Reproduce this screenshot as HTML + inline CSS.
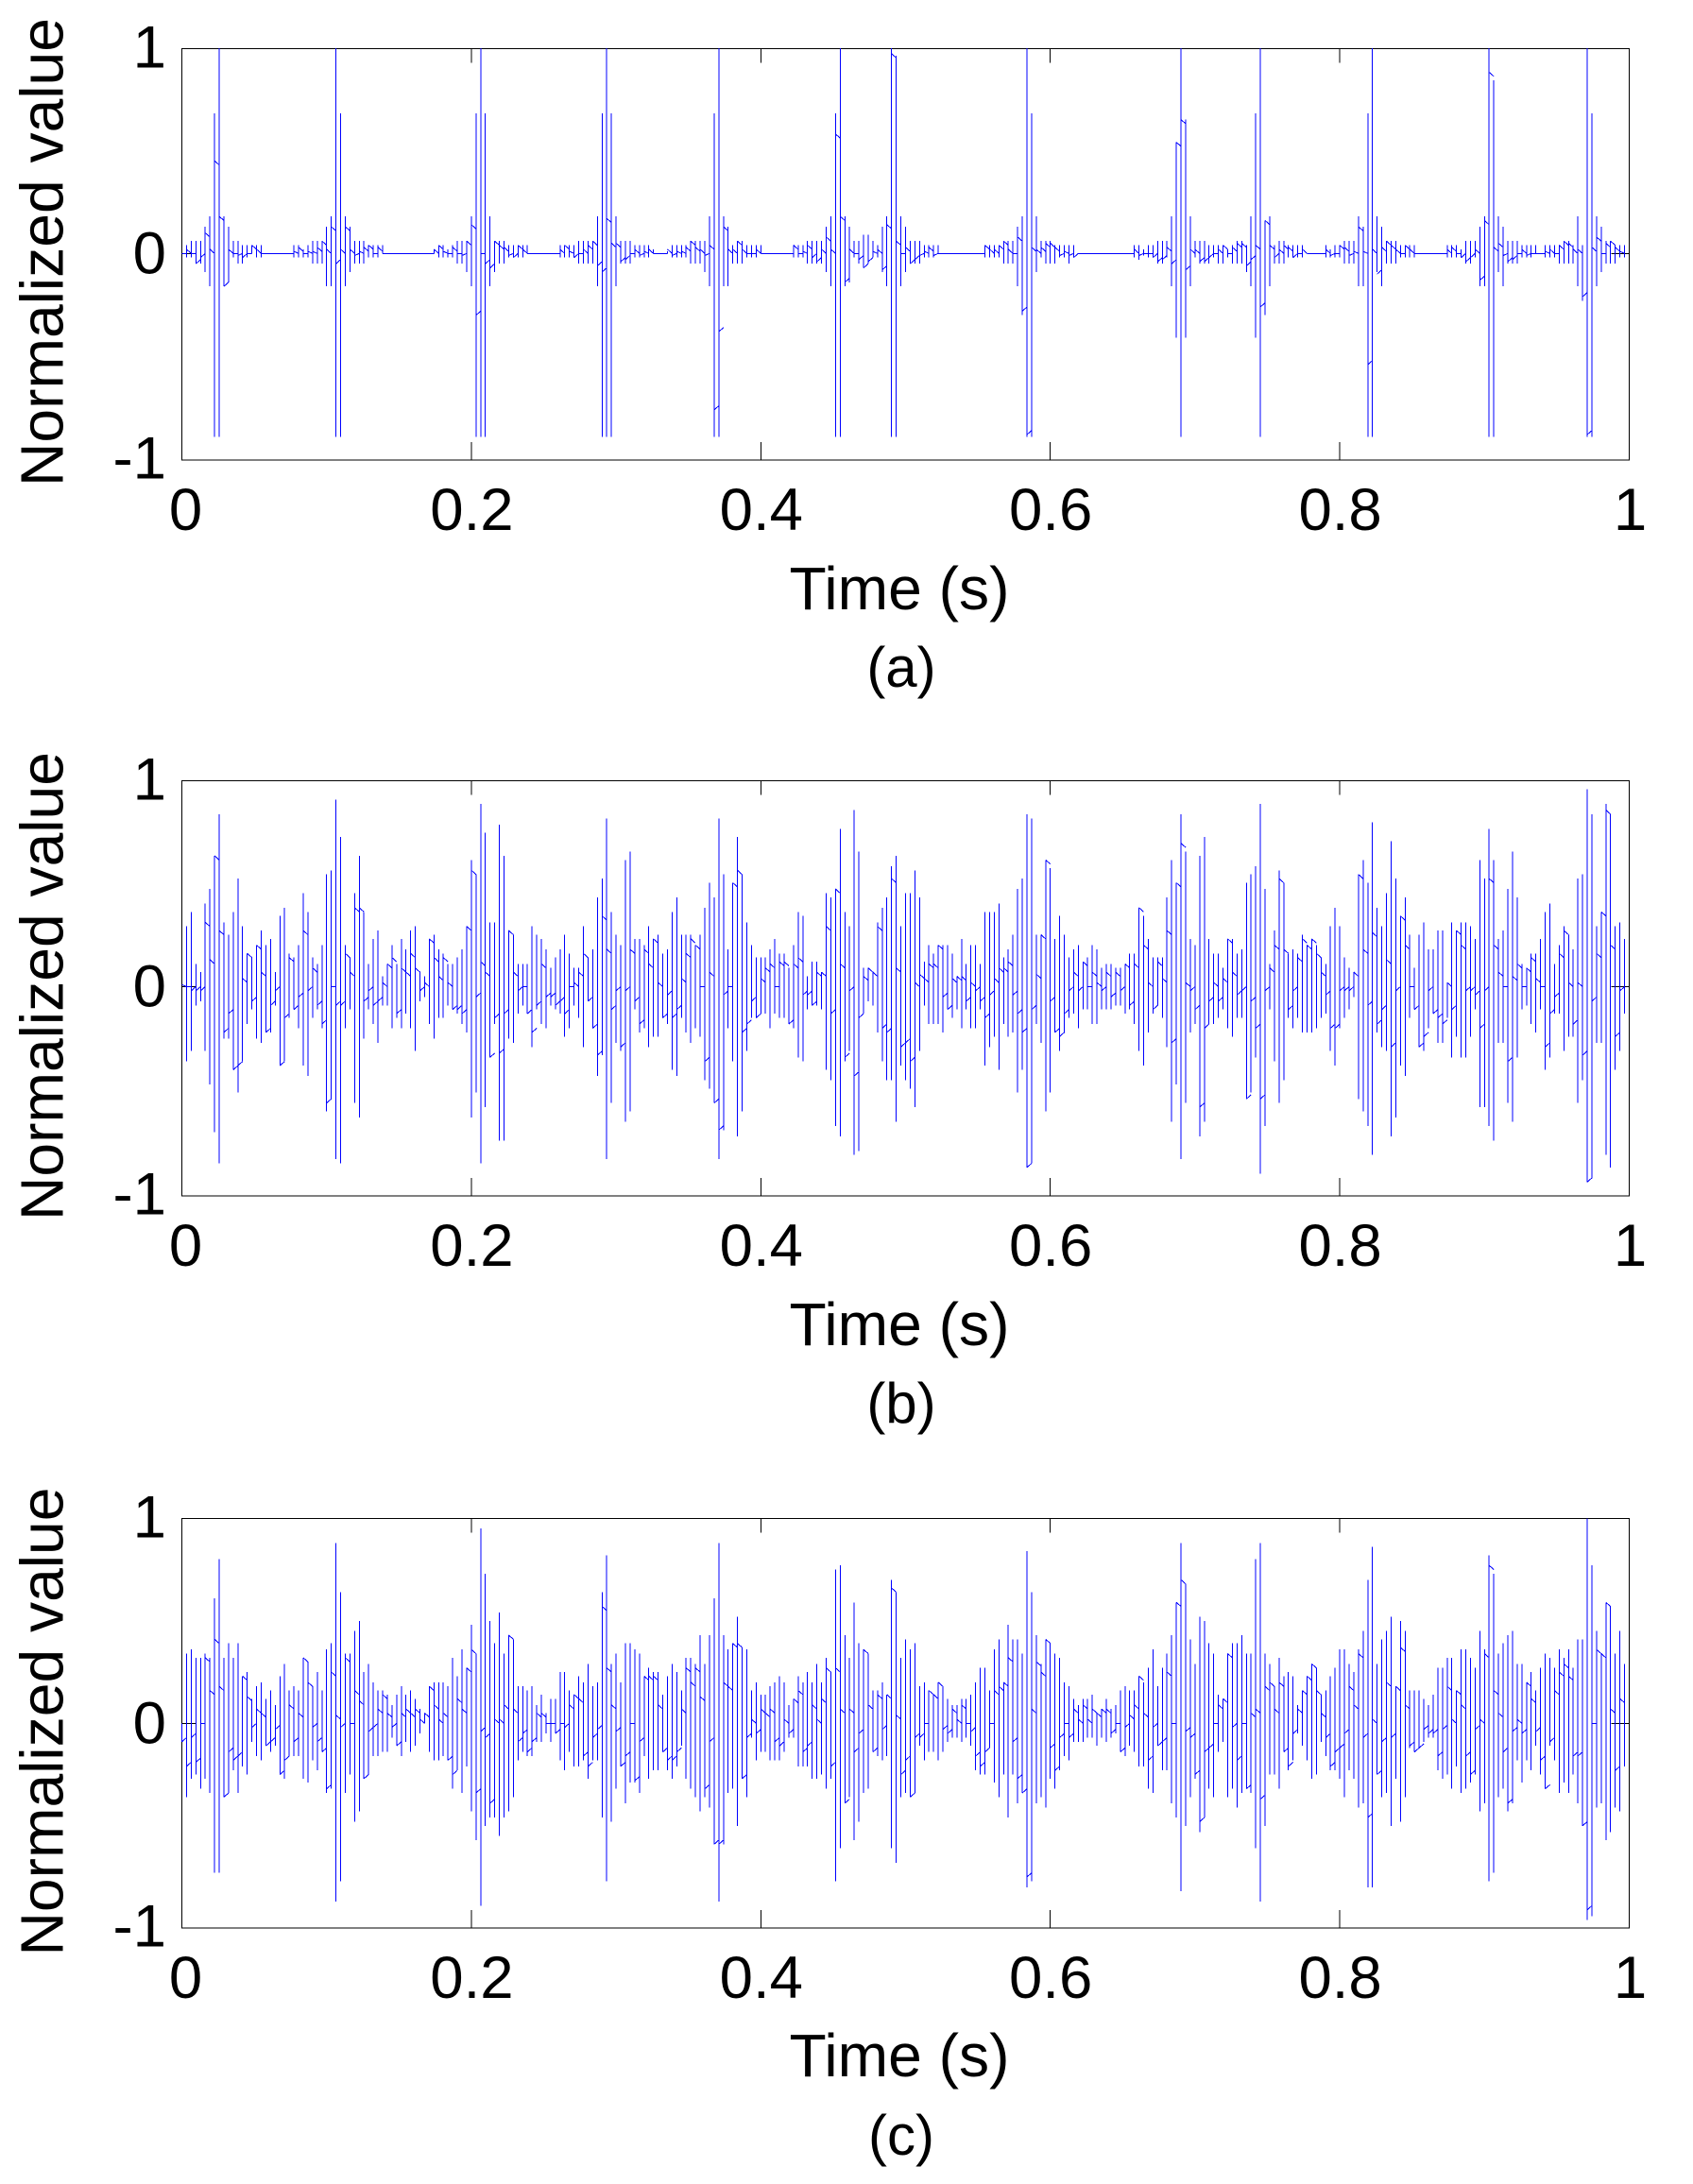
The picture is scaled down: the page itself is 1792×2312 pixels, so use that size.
<!DOCTYPE html>
<html lang="en">
<head>
<meta charset="utf-8">
<title>Normalized value vs time</title>
<style>
html,body{margin:0;padding:0;background:#fff;width:1792px;height:2312px;overflow:hidden}
svg{display:block}
text{font-family:"Liberation Sans",Arial,sans-serif;font-size:63.5px;fill:#000}
text.axis-title{font-size:64.2px}
text.panel-label{font-size:60px}
.frame{fill:none;stroke:#000;stroke-width:1;shape-rendering:crispEdges}
.tick{stroke:#000;stroke-width:1;shape-rendering:crispEdges}
.trace{fill:none;stroke:#0000ff;stroke-width:1;shape-rendering:crispEdges}
</style>
</head>
<body>
<svg id="chart" xmlns="http://www.w3.org/2000/svg" width="1792" height="2312" viewBox="0 0 1792 2312">
<defs>
<clipPath id="clip-a"><rect x="192" y="51" width="1533" height="436"/></clipPath>
<clipPath id="clip-b"><rect x="192" y="826" width="1533" height="440"/></clipPath>
<clipPath id="clip-c"><rect x="192" y="1607" width="1533" height="434"/></clipPath>
</defs>

<g id="panel-a">
<rect class="frame" x="192.5" y="51.5" width="1532" height="435.5"/>
<text class="axis-title" transform="translate(66.5,267) rotate(-90)" text-anchor="middle">Normalized value</text>
<text class="axis-title" x="952" y="645" text-anchor="middle">Time (s)</text>
<text class="panel-label" x="954" y="727" text-anchor="middle">(a)</text>
</g>

<g id="panel-b">
<rect class="frame" x="192.5" y="826.5" width="1532" height="439.5"/>
<text class="axis-title" transform="translate(66.5,1044) rotate(-90)" text-anchor="middle">Normalized value</text>
<text class="axis-title" x="952" y="1424" text-anchor="middle">Time (s)</text>
<text class="panel-label" x="954" y="1506" text-anchor="middle">(b)</text>
</g>

<g id="panel-c">
<rect class="frame" x="192.5" y="1607.5" width="1532" height="433.5"/>
<text class="axis-title" transform="translate(66.5,1822.5) rotate(-90)" text-anchor="middle">Normalized value</text>
<text class="axis-title" x="952" y="2198" text-anchor="middle">Time (s)</text>
<text class="panel-label" x="954" y="2281" text-anchor="middle">(c)</text>
</g>
</svg>

<script>
// Axis ticks
const xTickValues = [0, 0.2, 0.4, 0.6, 0.8, 1];
const xTickLabels = ['0', '0.2', '0.4', '0.6', '0.8', '1'];
const yTickValues = [1, 0, -1];
const yTickLabels = ['1', '0', '-1'];

// Number of time columns in each one-second trace
const columnCount = 310;

// Panel (a): column highs, lows and connector values, in hundredths of the normalized value
const highA = [
0,4,6,6,6,13,18,68,100,18,
13,6,6,4,4,4,4,4,0,0,
0,0,0,0,4,4,2,4,6,6,
6,13,18,100,68,18,13,6,6,6,
4,4,4,4,0,0,0,0,0,0,
0,0,0,0,2,4,4,2,4,6,
6,6,18,68,100,68,18,6,6,6,
4,4,4,4,4,0,0,0,0,0,
0,4,4,4,4,6,6,6,6,18,
68,100,68,18,6,6,6,4,4,4,
4,2,0,0,1,4,4,4,4,6,
6,6,6,18,68,100,18,13,4,6,
6,4,4,4,4,0,0,0,0,0,
0,4,4,4,6,6,6,6,13,18,
68,100,18,13,6,6,9,9,6,4,
13,18,100,96,18,13,6,6,6,4,
4,4,4,0,0,0,0,0,0,0,
0,0,4,4,4,4,6,6,6,13,
18,100,68,18,6,6,6,4,4,4,
4,4,0,0,0,0,0,0,0,0,
0,0,0,0,4,4,2,4,4,6,
6,6,18,54,100,65,18,6,6,6,
4,4,4,4,2,4,6,6,4,18,
68,100,16,18,4,6,6,4,4,4,
4,0,0,0,0,4,2,4,4,6,
6,6,18,13,68,100,18,13,6,6,
6,4,4,4,4,0,0,0,0,0,
0,4,4,4,2,6,6,6,13,18,
100,84,18,13,6,6,6,4,4,4,
4,0,4,4,4,4,6,6,4,18,
4,100,68,18,13,6,6,4,4,4];
const lowA = [
0,-2,-2,-5,-5,-9,-16,-89,-89,-16,
-14,-2,-5,-5,-2,0,-2,-2,0,0,
0,0,0,0,-2,-2,-2,-2,-5,-5,
-5,-16,-16,-89,-89,-16,-9,-5,-5,-5,
-2,-2,-2,0,0,0,0,0,0,0,
0,0,0,0,0,-2,-2,-2,-2,-5,
-5,-9,-16,-89,-89,-89,-16,-9,-5,-5,
-2,-2,-2,-2,0,0,0,0,0,0,
0,-2,-2,-2,-2,-5,-5,-5,-5,-16,
-89,-89,-89,-16,-5,-5,-5,-2,-2,-2,
-2,0,0,0,0,-2,-2,-2,-2,-5,
-5,-5,-9,-16,-89,-89,-16,-16,-5,-5,
-5,-2,-2,-2,0,0,0,0,0,0,
0,-2,-2,-2,-5,-5,-5,-5,-9,-16,
-89,-89,-16,-14,-2,-5,-7,-5,-2,-2,
-9,-16,-89,-89,-16,-9,-5,-5,-5,-2,
-2,-2,0,0,0,0,0,0,0,0,
0,0,-2,-2,-2,-2,-5,-5,-5,-16,
-30,-89,-89,-9,-2,-5,-5,-5,-2,-2,
-5,-2,0,0,0,0,0,0,0,0,
0,0,0,0,-2,-3,-1,-2,-2,-5,
-5,-2,-16,-41,-89,-41,-16,-2,-5,-5,
-5,-2,-5,-5,-2,-5,-5,-5,-9,-16,
-41,-89,-30,-16,-5,-5,-5,-2,-2,-2,
-2,0,0,0,0,-2,-2,-2,-2,-5,
-5,-5,-16,-16,-89,-89,-9,-16,-5,-5,
-5,-2,-2,-2,-2,0,0,0,0,0,
0,-2,-2,-2,-2,-5,-5,-2,-16,-16,
-89,-89,-9,-16,-5,-5,-5,-2,-2,-2,
0,0,-2,-2,-2,-5,-5,-5,-5,-16,
-23,-89,-89,-16,-9,-5,-5,-5,-2,-2];
const linkA = [
0,2,0,-5,-2,10,2,45,18,-16,
2,0,-1,-2,0,4,2,0,0,0,
0,0,0,0,1,3,0,1,1,3,
6,2,13,-5,2,13,2,-1,1,3,
4,0,3,0,0,0,0,0,0,0,
0,0,0,0,2,4,1,0,3,0,
-1,6,14,-30,0,-5,-7,6,4,3,
-1,-2,4,2,0,0,0,0,0,0,
0,2,4,1,-2,0,2,4,6,-6,
-9,17,5,5,-4,-3,0,2,-1,1,
2,0,0,0,2,-1,1,1,3,6,
3,2,-1,4,-76,-38,13,2,2,6,
2,0,0,2,0,0,0,0,0,0,
0,4,0,1,4,-2,-4,2,8,2,
58,18,-14,2,0,-3,-7,-4,1,2,
-8,14,97,6,0,3,-5,-3,-1,1,
3,-1,0,0,0,0,0,0,0,0,
0,0,4,2,2,4,6,2,0,8,
-28,-88,3,2,3,5,5,3,-1,1,
-1,-2,0,0,0,0,0,0,0,0,
0,0,0,0,2,-1,0,0,-2,-4,
-3,3,-5,54,65,-8,2,2,-4,-4,
-2,0,2,4,0,3,5,5,-6,-3,
4,-26,16,4,-2,2,4,3,-2,0,
2,0,0,0,0,2,-1,0,4,3,
-1,1,13,1,-54,2,-10,3,6,4,
2,0,4,2,0,0,0,0,0,0,
0,2,3,0,-2,-4,-2,2,-13,16,
88,3,5,-1,-4,-3,0,2,-1,0,
0,0,1,2,0,4,6,5,2,2,
-21,-88,3,8,0,5,6,3,1,0];

// Panel (b)
const highB = [
0,29,36,11,7,40,47,63,83,31,
25,36,52,29,16,14,20,27,20,23,
7,34,38,16,14,20,45,36,14,11,
20,54,56,90,72,20,14,45,63,36,
11,23,27,5,11,20,11,23,18,27,
29,7,5,23,25,18,16,11,11,14,
18,29,61,54,88,74,31,31,78,63,
27,25,11,11,11,29,25,23,18,9,
14,18,25,16,9,9,29,14,18,43,
52,81,36,25,20,61,65,23,23,20,
29,23,25,16,18,36,43,25,25,25,
20,25,38,50,43,81,54,18,50,72,
54,31,20,14,14,14,18,23,16,16,
9,20,36,34,5,12,12,7,45,43,
47,76,36,29,85,65,9,9,7,31,
38,43,58,63,29,45,45,56,43,12,
20,16,20,20,20,16,5,23,11,20,
20,11,36,36,36,40,14,18,25,47,
52,83,81,25,25,61,57,23,34,25,
14,18,20,12,14,20,18,9,11,11,
9,9,11,16,16,38,34,23,14,14,
14,43,61,50,83,65,23,20,63,72,
23,16,16,9,23,23,16,18,50,54,
58,88,47,11,27,56,50,16,18,16,
25,20,23,20,14,11,29,38,29,14,
9,7,54,61,50,79,38,29,45,70,
52,34,43,25,9,25,31,18,18,27,
27,2,31,27,31,31,29,23,61,52,
76,61,23,27,47,65,43,11,9,16,
16,23,36,40,11,20,29,25,18,52,
54,95,83,29,36,88,83,29,31,23];
const lowB = [
0,-36,-31,-9,-7,-31,-47,-70,-85,-25,
-25,-40,-51,-36,-18,-11,-25,-27,-22,-22,
-9,-38,-36,-15,-11,-20,-38,-43,-15,-11,
-20,-60,-54,-83,-85,-20,-11,-56,-63,-25,
-11,-18,-27,-9,-9,-20,-15,-20,-13,-20,
-31,-7,-5,-18,-25,-15,-15,-9,-11,-13,
-18,-22,-63,-51,-85,-58,-34,-18,-74,-74,
-25,-27,-13,-9,-13,-29,-11,-18,-20,-9,
-11,-13,-24,-20,-9,-15,-29,-7,-20,-43,
-33,-83,-56,-27,-31,-65,-60,-11,-22,-20,
-29,-24,-24,-15,-18,-40,-43,-15,-22,-27,
-20,-24,-45,-49,-56,-83,-69,-20,-36,-72,
-60,-31,-15,-15,-13,-13,-20,-13,-15,-15,
-18,-20,-34,-36,-11,-9,-9,-11,-40,-45,
-67,-72,-36,-31,-81,-79,-13,-7,-9,-22,
-36,-45,-45,-65,-38,-45,-49,-58,-31,-9,
-18,-18,-18,-22,-11,-15,-11,-20,-11,-20,
-20,-11,-38,-29,-24,-40,-18,-24,-22,-51,
-40,-87,-85,-18,-27,-60,-51,-22,-31,-22,
-15,-13,-20,-11,-11,-18,-18,-11,-11,-11,
-9,-9,-13,-11,-18,-31,-38,-22,-13,-9,
-15,-29,-65,-47,-83,-56,-22,-18,-72,-65,
-18,-18,-15,-11,-20,-24,-15,-15,-54,-51,
-34,-90,-67,-11,-36,-56,-45,-15,-20,-15,
-22,-22,-22,-20,-15,-13,-31,-38,-20,-15,
-11,-5,-54,-60,-67,-81,-22,-29,-31,-72,
-63,-38,-43,-15,-11,-29,-31,-20,-13,-27,
-27,-15,-34,-24,-34,-34,-24,-11,-58,-58,
-67,-74,-27,-27,-56,-65,-34,-11,-9,-18,
-22,-11,-40,-34,-13,-13,-31,-24,-24,-56,
-45,-94,-92,-27,-27,-81,-87,-40,-31,-13];
const linkB = [
1,0,-2,-2,-2,31,13,63,27,-22,
-13,-40,-38,4,16,-7,20,7,-22,-9,
-2,-38,-15,14,-11,-5,27,-2,9,-9,
-18,-56,0,-9,-9,16,7,38,38,-7,
-2,-9,-7,2,11,14,-13,9,7,16,
9,-2,2,23,14,5,14,2,-11,-11,
-13,29,56,-5,12,7,-34,-15,-32,-13,
27,7,-2,0,-13,-22,-9,11,-5,-5,
-9,-7,-13,0,2,7,16,-7,-20,-33,
34,18,-11,-2,-29,-2,18,-7,-18,18,
11,23,2,-15,-4,-15,-11,4,16,23,
20,0,-36,7,-56,-69,-4,0,50,56,
-22,-18,-7,-15,4,9,11,0,12,12,
-18,11,14,-4,-4,-9,7,7,29,-13,
47,11,-34,-2,-43,-15,5,9,7,29,
-20,-22,52,9,-29,-27,-36,2,6,4,
11,11,20,-5,-11,4,5,5,-7,2,
-2,-7,-15,-4,4,9,9,12,-4,-13,
-22,-87,-11,6,25,61,-7,-22,-24,-13,
-2,7,-2,12,0,7,2,-2,7,-5,
7,-2,11,-9,11,38,20,2,-11,12,
4,27,-27,50,69,2,-2,-11,-58,-20,
-7,2,-7,4,23,7,-4,-2,-54,-7,
-20,-54,-2,9,20,52,18,-11,-2,14,
23,20,23,16,7,-4,-20,-20,-2,-2,
-2,7,54,18,-9,26,-18,-11,13,-29,
-2,34,20,0,-11,-29,-24,-2,-13,-15,
-18,2,-11,27,20,-2,-2,-4,-20,-2,
52,20,7,0,-36,5,11,0,9,14,
4,0,-29,-13,-5,16,27,2,-18,2,
-33,-94,-7,16,36,85,20,-24,-2,0];

// Panel (c)
const highC = [
0,34,36,32,32,34,32,61,80,32,
39,32,39,23,25,12,18,20,12,16,
9,23,29,16,18,16,32,30,18,25,
16,36,39,88,64,34,34,45,50,25,
29,20,16,16,14,9,14,18,14,16,
12,7,5,18,20,20,20,18,32,23,
36,27,48,34,95,73,50,39,54,34,
43,41,18,18,16,18,9,14,5,12,
12,25,25,16,14,23,20,29,18,20,
64,82,29,34,20,39,39,36,34,23,
27,25,25,14,23,29,25,16,32,32,
29,43,29,43,61,88,43,36,39,52,
37,36,16,20,14,14,18,20,23,20,
9,12,23,20,25,20,29,20,32,25,
75,77,43,32,59,39,36,34,16,16,
20,14,70,64,32,41,36,39,18,20,
16,14,20,18,12,9,9,12,12,14,
20,27,27,16,36,41,20,48,41,41,
34,84,64,43,29,41,39,34,32,20,
18,12,9,12,12,14,5,7,12,7,
9,16,18,16,16,23,20,27,36,18,
27,34,43,59,88,68,41,29,52,50,
39,34,14,12,34,39,39,43,34,34,
80,88,34,29,18,32,23,25,23,9,
16,23,29,27,14,16,23,27,36,36,
29,25,36,45,70,86,29,41,45,52,
18,50,45,16,16,16,12,9,14,27,
27,32,32,16,36,36,32,27,45,36,
82,73,34,39,43,45,29,29,20,25,
16,27,34,32,27,36,32,36,27,41,
41,100,77,45,34,59,57,34,45,29];
const lowC = [
-9,-36,-27,-25,-32,-27,-34,-73,-73,-36,
-34,-23,-34,-21,-25,-9,-16,-18,-11,-14,
-11,-25,-27,-16,-16,-16,-27,-29,-18,-23,
-14,-34,-32,-87,-77,-34,-25,-48,-43,-27,
-25,-16,-16,-14,-14,-7,-11,-16,-9,-14,
-11,-5,0,-14,-18,-18,-16,-18,-32,-23,
-34,-21,-43,-57,-89,-50,-46,-46,-55,-46,
-43,-36,-18,-14,-16,-16,-9,-9,-5,-9,
-5,-18,-23,-14,-21,-21,-18,-27,-18,-18,
-46,-77,-48,-32,-21,-39,-29,-29,-34,-16,
-27,-23,-23,-14,-23,-27,-21,-11,-27,-32,
-36,-43,-36,-41,-59,-87,-59,-34,-32,-50,
-27,-36,-7,-18,-14,-14,-18,-18,-18,-14,
-7,-7,-21,-21,-21,-27,-27,-25,-32,-27,
-77,-61,-39,-36,-57,-48,-34,-32,-14,-16,
-18,-16,-61,-68,-36,-34,-36,-34,-11,-18,
-14,-14,-18,-14,-9,-7,-7,-9,-7,-11,
-23,-25,-25,-12,-29,-36,-25,-46,-25,-39,
-34,-80,-77,-39,-36,-41,-27,-32,-23,-16,
-18,-9,-9,-9,-7,-7,-11,-7,-9,-7,
-5,-14,-16,-11,-14,-21,-21,-32,-34,-11,
-23,-23,-39,-46,-82,-50,-36,-27,-53,-46,
-32,-36,-14,-9,-36,-32,-41,-34,-32,-34,
-61,-87,-50,-25,-25,-32,-14,-23,-18,-5,
-11,-18,-27,-25,-9,-16,-23,-23,-27,-36,
-23,-27,-41,-39,-80,-80,-25,-36,-34,-50,
-27,-48,-36,-12,-14,-12,-9,-7,-7,-23,
-27,-25,-32,-21,-34,-32,-29,-25,-43,-39,
-77,-73,-36,-32,-43,-39,-18,-29,-18,-23,
-11,-25,-32,-11,-18,-34,-29,-34,-25,-39,
-50,-96,-94,-41,-39,-57,-53,-41,-43,-21];
const linkC = [
-9,-21,-7,-19,0,32,16,41,18,-36,
-14,-18,-16,23,13,-2,7,5,-11,-9,
-3,-25,-18,9,-9,5,32,20,-2,-9,
-14,-32,25,4,-2,32,0,16,11,-27,
-4,-2,7,14,5,-2,-11,5,7,5,
7,2,5,18,9,2,5,-18,-25,12,
7,27,36,-34,-4,-7,-39,2,2,9,
43,7,-9,-5,-14,-9,5,5,0,0,
-5,0,-2,9,14,12,-16,-21,-7,-3,
57,27,9,-4,-21,-16,0,-28,-9,23,
23,23,9,-14,-18,-18,-14,7,27,20,
27,13,-32,-9,-59,-59,20,18,39,39,
-27,-7,2,-5,7,5,7,-9,-11,2,
-5,12,16,-14,-11,9,2,12,27,-21,
27,7,-39,7,-14,-5,36,9,-14,14,
-3,14,66,4,-25,-18,-36,-7,-7,0,
16,14,20,-3,-5,7,2,9,0,-4,
-16,-21,-14,0,16,18,20,32,-9,-27,
-34,-75,7,30,25,41,-12,-23,-7,0,
-7,7,2,9,2,7,5,7,7,-5,
0,-14,-2,4,9,23,5,-18,-2,-11,
-9,25,0,59,70,-4,-7,-25,-48,-14,
-12,0,9,12,34,-2,-18,0,-32,5,
7,-37,18,20,7,20,-14,-21,-5,7,
16,23,29,16,5,-7,-21,-14,-12,-5,
18,9,34,-7,-46,2,-25,-9,20,-7,
18,37,9,-11,-14,-12,-3,-5,-5,-16,
-3,18,2,16,9,-16,-25,-3,2,34,
77,16,5,-14,-39,-4,2,-5,20,12,
-4,-18,-32,-9,16,25,29,23,-16,-16,
-50,-91,0,36,34,59,7,-23,12,0];

const SVG_NS = 'http://www.w3.org/2000/svg';
const plotLeft = 192.5;
const plotWidth = 1532;

function xScale(t) {
  return plotLeft + t * plotWidth;
}

function yScaleFor(zeroY, unit) {
  return function (v) { return zeroY - v * unit; };
}

function drawPanel(id, key, frameTop, frameBottom, zeroY, unit, highs, lows, links) {
  const group = document.getElementById(id);
  const yScale = yScaleFor(zeroY, unit);

  xTickValues.forEach(function (v, i) {
    const x = xScale(v);
    if (v > 0 && v < 1) {
      const topTick = document.createElementNS(SVG_NS, 'line');
      
      
      topTick.setAttribute('class', 'tick');
      topTick.setAttribute('x1', x);
      topTick.setAttribute('x2', x);
      topTick.setAttribute('y1', frameTop);
      topTick.setAttribute('y2', frameTop + 15);
      group.appendChild(topTick);
      const bottomTick = document.createElementNS(SVG_NS, 'line');
      
      
      bottomTick.setAttribute('class', 'tick');
      bottomTick.setAttribute('x1', x);
      bottomTick.setAttribute('x2', x);
      bottomTick.setAttribute('y1', frameBottom - 19);
      bottomTick.setAttribute('y2', frameBottom);
      group.appendChild(bottomTick);
    }
    const label = document.createElementNS(SVG_NS, 'text');
    
    
    label.setAttribute('x', x + (v === 0 ? 4 : v === 1 ? 1 : 0.5));
    label.setAttribute('y', frameBottom + 74);
    label.setAttribute('text-anchor', 'middle');
    label.textContent = xTickLabels[i];
    group.appendChild(label);
  });

  yTickValues.forEach(function (v, i) {
    if (v === 0) {
      const y = yScale(0);
      const leftTick = document.createElementNS(SVG_NS, 'line');
      
      
      leftTick.setAttribute('class', 'tick');
      leftTick.setAttribute('x1', plotLeft);
      leftTick.setAttribute('x2', plotLeft + 15);
      leftTick.setAttribute('y1', y);
      leftTick.setAttribute('y2', y);
      group.appendChild(leftTick);
      const rightTick = document.createElementNS(SVG_NS, 'line');
      
      
      rightTick.setAttribute('class', 'tick');
      rightTick.setAttribute('x1', plotLeft + plotWidth - 19);
      rightTick.setAttribute('x2', plotLeft + plotWidth);
      rightTick.setAttribute('y1', y);
      rightTick.setAttribute('y2', y);
      group.appendChild(rightTick);
    }
    const label = document.createElementNS(SVG_NS, 'text');
    
    
    label.setAttribute('x', 176);
    label.setAttribute('y', v === 1 ? frameTop + 20 : v === 0 ? zeroY + 21 : frameBottom + 19.5);
    label.setAttribute('text-anchor', 'end');
    label.textContent = yTickLabels[i];
    group.appendChild(label);
  });

  let d = '';
  for (let i = 0; i < columnCount; i++) {
    const x = xScale(i / columnCount);
    const hi = highs[i] / 100;
    const lo = lows[i] / 100;
    if (hi !== lo) {
      d += 'M' + x.toFixed(1) + ' ' + yScale(hi).toFixed(1) + 'V' + yScale(lo).toFixed(1);
    }
    if (i < columnCount - 1) {
      const a = links[i] / 100;
      const b = Math.abs(a) <= 0.02 ? 0 : a - Math.sign(a) * 0.02;
      d += 'M' + x.toFixed(1) + ' ' + yScale(a).toFixed(1) +
           'L' + xScale((i + 1) / columnCount).toFixed(1) + ' ' + yScale(b).toFixed(1);
    }
  }
  const trace = document.createElementNS(SVG_NS, 'path');
  
  
  trace.setAttribute('class', 'trace');
  trace.setAttribute('clip-path', 'url(#clip-' + key + ')');
  trace.setAttribute('d', d);
  group.appendChild(trace);
}

drawPanel('panel-a', 'a', 51.5, 487, 268.3, 218, highA, lowA, linkA);
drawPanel('panel-b', 'b', 826.5, 1266, 1044.5, 220, highB, lowB, linkB);
drawPanel('panel-c', 'c', 1607.5, 2041, 1824.3, 217, highC, lowC, linkC);
</script>
</body>
</html>
